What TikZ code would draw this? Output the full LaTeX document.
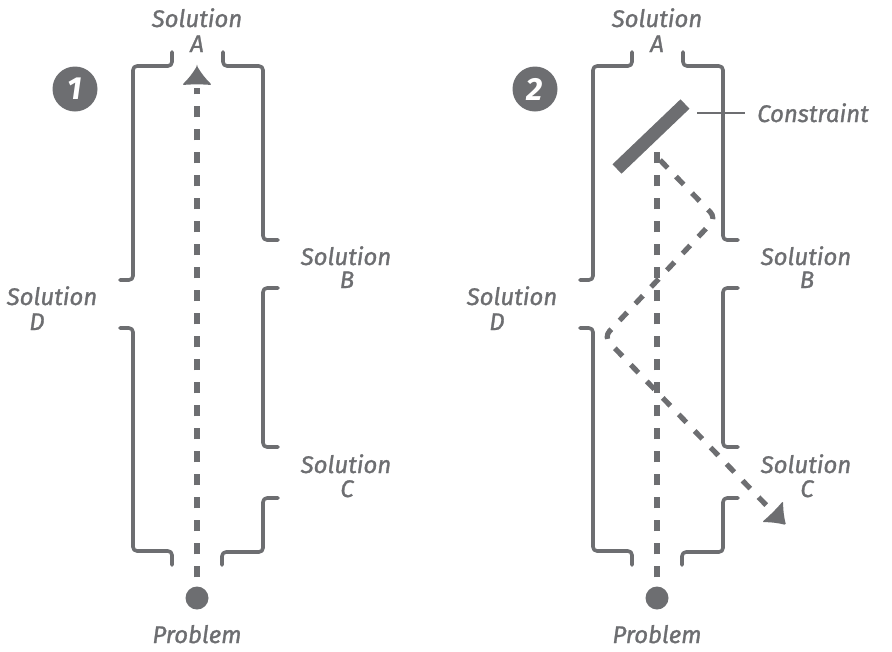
\documentclass[tikz,border=0pt]{standalone}
\usepackage{fontspec}
\setmainfont{Fira Sans}
\newfontfamily\lblfont{Fira Sans}[ItalicFeatures={FakeBold=1.2}]
\definecolor{ink}{HTML}{6D6E71}
% the bracket walls of one corridor, in panel-local coordinates
\newcommand\wallset{%
  \draw[wall] (172,52) -- (172,66) -- (133,66) -- (133,280) -- (120,280);
  \draw[wall] (120,328) -- (133,328) -- (133,551) -- (172,551) -- (172,565);
  \draw[wall] (223,52) -- (223,66) -- (263,66) -- (263,240) -- (278,240);
  \draw[wall] (278,288) -- (263,288) -- (263,447) -- (278,447);
  \draw[wall] (278,498) -- (263,498) -- (263,552) -- (222,552) -- (222,565);
}
\begin{document}
\begin{tikzpicture}[x=1pt,y=-1pt,
  wall/.style={draw=ink,line width=3.6pt,rounded corners=4pt,line cap=round,line join=round},
  dashpath/.style={draw=ink,line width=5.2pt,dash pattern=on 11pt off 12pt},
  lbl/.style={text=ink,font=\fontsize{24}{24}\lblfont\itshape,inner sep=0pt,anchor=base},
  badge/.style={circle,fill=ink,minimum size=45pt,inner sep=0pt,text=white,
    font=\fontsize{32}{32}\selectfont\bfseries\itshape},
  dot/.style={circle,fill=ink,minimum size=23pt,inner sep=0pt},
  tiphead/.pic={\fill[ink,rounded corners=1.5pt] (0,0) to[bend right=7] (15,19) to[bend right=4] (-15,19) to[bend right=7] cycle;}
]
\useasboundingbox (0,0) rectangle (892,651);

% ---------- panel 1 ----------
\wallset
\node[badge] (n1) at (75,89) {1};
\node[lbl] (s1a) at (197,27) {Solution};
\node[lbl] (s1al) at (197,52) {A};
\node[lbl] (s1b) at (346,265) {Solution};
\node[lbl] (s1bl) at (347,288) {B};
\node[lbl] (s1c) at (346,473) {Solution};
\node[lbl] (s1cl) at (347,497) {C};
\node[lbl] (s1d) at (52,305) {Solution};
\node[lbl] (s1dl) at (37,330) {D};
\node[dot] (p1) at (197,598) {};
\node[lbl] (p1l) at (197,643) {Problem};
\coordinate (e1) at (197,88);
\draw[dashpath,shorten <=9pt] (p1) -- (e1);
\pic at (197,66) {tiphead};

% ---------- panel 2 ----------
\begin{scope}[xshift=460pt]
  \wallset
\end{scope}
\node[badge] (n2) at (535,89) {2};
\node[lbl] (s2a) at (657,27) {Solution};
\node[lbl] (s2al) at (657,52) {A};
\node[lbl] (s2b) at (806,265) {Solution};
\node[lbl] (s2bl) at (807,288) {B};
\node[lbl] (s2c) at (806,473) {Solution};
\node[lbl] (s2cl) at (807,497) {C};
\node[lbl] (s2d) at (512,305) {Solution};
\node[lbl] (s2dl) at (497,330) {D};
\node[dot] (p2) at (657,598) {};
\node[lbl] (p2l) at (657,643) {Problem};

% constraint bar and its label
\coordinate (barA) at (617,169);
\coordinate (barB) at (685,104);
\draw[ink,line width=13pt] (barA) -- (barB);
\node[lbl,anchor=base west] (cons) at (757,122) {Constraint};
\coordinate (lead) at (697,113);
\draw[ink,line width=2.5pt] (lead) -- (lead -| cons.west) [shorten >=12pt];

% path deflected by the constraint
\coordinate (hit) at (657,152);
\coordinate (bounce) at (660,160);
\coordinate (r1) at (716,218);
\coordinate (r2) at (604,337);
\coordinate (e2) at (768,507);
\draw[dashpath,shorten <=9pt] (p2) -- (hit);
\draw[dashpath,rounded corners=8pt] (bounce) -- (r1) -- (r2) -- (e2);
\pic[rotate=-135] at (786,525) {tiphead};
\end{tikzpicture}
\end{document}
